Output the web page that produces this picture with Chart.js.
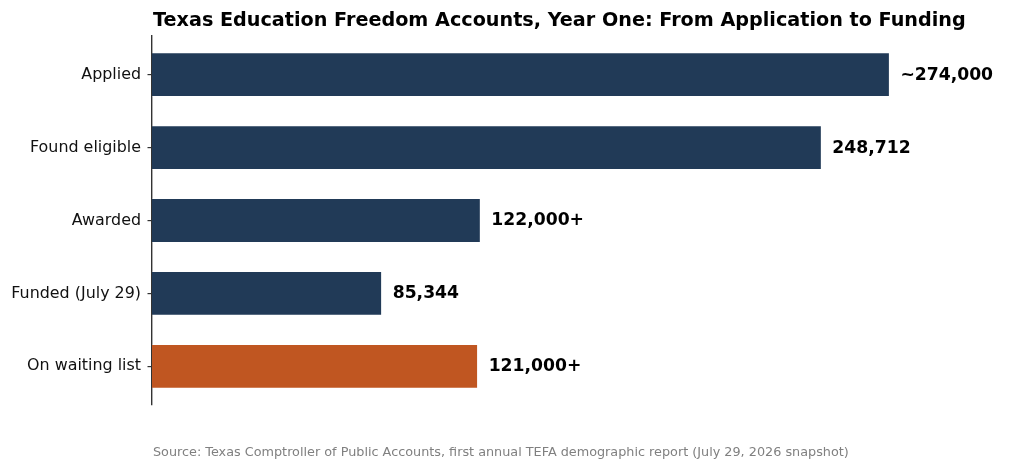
<!DOCTYPE html>
<html><head><meta charset="utf-8">
<script src="https://cdn.jsdelivr.net/npm/chart.js@4.4.1/dist/chart.umd.min.js"></script>
<style>html,body{margin:0;padding:0;background:#fff}#wrap{width:1024px;height:470px}</style>
</head><body><div id="wrap"><canvas id="c" width="1024" height="470"></canvas></div>
<script>
const categories = ["Applied", "Found eligible", "Awarded", "Funded (July 29)", "On waiting list"];
const values = [274000, 248712, 122000, 85344, 121000];
const valueLabels = ["~274,000", "248,712", "122,000+", "85,344", "121,000+"];
const barColors = ["#213A57", "#213A57", "#213A57", "#213A57", "#C05621"];
const titleText = "Texas Education Freedom Accounts, Year One: From Application to Funding";
const sourceText = "Source: Texas Comptroller of Public Accounts, first annual TEFA demographic report (July 29, 2026 snapshot)";
const FONT = "'DejaVu Sans', sans-serif";

const textPlugin = {
  id: 'texts',
  afterDatasetsDraw(chart) {
    const ctx = chart.ctx;
    const area = chart.chartArea;
    ctx.save();
    ctx.fillStyle = '#000';
    ctx.font = "bold 19.2px " + FONT;
    ctx.textAlign = 'left';
    ctx.textBaseline = 'alphabetic';
    ctx.fillText(titleText, area.left + 1, 26);
    ctx.font = "12.8px " + FONT;
    ctx.fillStyle = '#808080';
    ctx.fillText(sourceText, area.left + 1, 456);
    const meta = chart.getDatasetMeta(0);
    ctx.font = "bold 17.2px " + FONT;
    ctx.fillStyle = '#000';
    ctx.textBaseline = 'middle';
    meta.data.forEach((bar, i) => {
      ctx.fillText(valueLabels[i], bar.x + 11, bar.y + 0.5);
    });
    ctx.restore();
  }
};

new Chart(document.getElementById('c'), {
  type: 'bar',
  data: {
    datasets: [{
      data: values.map((v, i) => ({ x: v, y: i })),
      backgroundColor: barColors,
      borderColor: 'rgba(255,255,255,0.6)',
      borderWidth: 0.5,
      barPercentage: 0.6,
      categoryPercentage: 1.0
    }]
  },
  options: {
    indexAxis: 'y',
    responsive: false,
    animation: false,
    devicePixelRatio: 1,
    layout: { padding: { top: 36, bottom: 65, right: 24, left: 0 } },
    plugins: { legend: { display: false }, tooltip: { enabled: false }, title: { display: false } },
    scales: {
      x: {
        type: 'linear',
        display: false,
        min: 0,
        max: 315100
      },
      y: {
        type: 'linear',
        reverse: true,
        offset: false,
        min: -0.53,
        max: 4.53,
        afterFit(scale) { scale.width = 152; },
        afterBuildTicks(scale) { scale.ticks = scale.ticks.filter(t => Number.isInteger(t.value)); },
        border: { display: true, color: '#333', width: 1.4 },
        grid: { display: true, offset: false, drawOnChartArea: false, drawTicks: true, tickLength: 4.5, color: '#333', lineWidth: 1.2 },
        ticks: {
          stepSize: 1,
          autoSkip: false,
          color: '#111',
          padding: 6.5,
          font: { family: FONT, size: 15.9 },
          callback: (v) => categories[v] !== undefined ? categories[v] : ''
        }
      }
    }
  },
  plugins: [textPlugin]
});
</script>
</body></html>
